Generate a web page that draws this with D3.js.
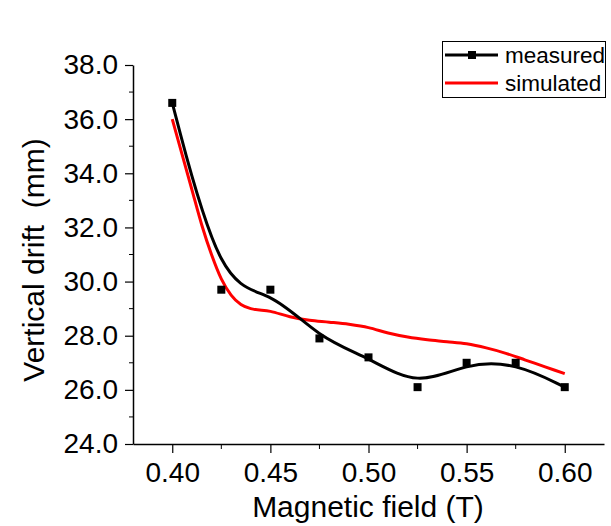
<!DOCTYPE html>
<html>
<head>
<meta charset="utf-8">
<script src="https://cdn.jsdelivr.net/npm/d3@7"></script>
<style>
  body { margin: 0; background: #fff; }
  text { font-family: Arial, "Liberation Sans", sans-serif; fill: #000; }
</style>
</head>
<body>
<script>
const w = 611
const h = 526

// measured points
const fieldMeasured = [0.400, 0.425, 0.450, 0.475, 0.500, 0.525, 0.550, 0.575, 0.600]
const driftMeasured = [36.6, 29.7, 29.7, 27.9, 27.2, 26.1, 27.0, 27.0, 26.1]

// simulated curve
const fieldSimulated = [0.400, 0.405, 0.410, 0.415, 0.420, 0.425, 0.430, 0.435, 0.440, 0.450,
  0.460, 0.470, 0.480, 0.490, 0.500, 0.510, 0.520, 0.530, 0.540, 0.550, 0.560, 0.570, 0.580, 0.590, 0.600]
const driftSimulated = [36.0, 34.7, 33.4, 32.1, 31.0, 30.1, 29.5, 29.15, 29.0, 28.9,
  28.7, 28.57, 28.5, 28.42, 28.3, 28.1, 27.95, 27.85, 27.78, 27.7, 27.55, 27.35, 27.1, 26.85, 26.6]

const xTicks = [0.40, 0.45, 0.50, 0.55, 0.60]
const yTicks = [24, 26, 28, 30, 32, 34, 36, 38]

const x = d3.scaleLinear().domain([0.38, 0.62]).range([133, 604])
const y = d3.scaleLinear().domain([24, 38]).range([444, 65])

const svg = d3.select('body').append('svg')
  .attr('width', w)
  .attr('height', h)

// axes
const xAxis = d3.axisBottom(x)
  .tickValues(xTicks)
  .tickFormat(d3.format('.2f'))
  .tickSize(9)
  .tickSizeOuter(0)
  .tickPadding(9)

const yAxis = d3.axisLeft(y)
  .tickValues(yTicks)
  .tickFormat(d3.format('.1f'))
  .tickSize(8)
  .tickSizeOuter(0)
  .tickPadding(7)

const gx = svg.append('g').attr('transform', 'translate(0,444)').call(xAxis)
const gy = svg.append('g').attr('transform', 'translate(133,0)').call(yAxis)

// minor ticks
const xMinor = [0.425, 0.475, 0.525, 0.575]
gx.selectAll('.minor').data(xMinor).enter().append('line')
  .attr('x1', d => x(d)).attr('x2', d => x(d))
  .attr('y1', 0).attr('y2', 5)
  .attr('stroke', '#000')
const yMinor = [25, 27, 29, 31, 33, 35, 37]
gy.selectAll('.minor').data(yMinor).enter().append('line')
  .attr('y1', d => y(d)).attr('y2', d => y(d))
  .attr('x1', 0).attr('x2', -4)
  .attr('stroke', '#000')

svg.selectAll('.domain').attr('stroke', '#000').attr('stroke-width', 1.5)
svg.selectAll('.tick line').attr('stroke', '#000').attr('stroke-width', 1.2)
svg.selectAll('.tick text')
  .attr('font-size', 28)
  .attr('font-family', 'Arial, "Liberation Sans", sans-serif')
  .attr('fill', '#000')

// axis titles
svg.append('text')
  .attr('x', 368)
  .attr('y', 517)
  .attr('text-anchor', 'middle')
  .attr('font-size', 30)
  .text('Magnetic field (T)')

svg.append('text')
  .attr('transform', 'translate(44,260) rotate(-90)')
  .attr('text-anchor', 'middle')
  .attr('font-size', 30)
  .style('white-space', 'pre')
  .text('Vertical drift  (mm)')

// lines
const simData = fieldSimulated.map((f, i) => ({ f, v: driftSimulated[i] }))
const measData = fieldMeasured.map((f, i) => ({ f, v: driftMeasured[i] }))

const simLine = d3.line()
  .x(d => x(d.f))
  .y(d => y(d.v))
  .curve(d3.curveMonotoneX)

const measLine = d3.line()
  .x(d => x(d.f))
  .y(d => y(d.v))
  .curve(d3.curveBasis)

svg.append('path')
  .attr('d', simLine(simData))
  .attr('stroke', '#ff0000')
  .attr('stroke-width', 3)
  .attr('fill', 'none')

svg.append('path')
  .attr('d', measLine(measData))
  .attr('stroke', '#000')
  .attr('stroke-width', 3)
  .attr('fill', 'none')

svg.selectAll('.pt').data(measData).enter().append('rect')
  .attr('x', d => x(d.f) - 4)
  .attr('y', d => y(d.v) - 4)
  .attr('width', 8)
  .attr('height', 8)
  .attr('fill', '#000')

// legend
const legend = svg.append('g')
legend.append('rect')
  .attr('x', 442.5).attr('y', 41.5)
  .attr('width', 163).attr('height', 56)
  .attr('fill', 'none').attr('stroke', '#000').attr('stroke-width', 1)

legend.append('line')
  .attr('x1', 445).attr('x2', 498).attr('y1', 55).attr('y2', 55)
  .attr('stroke', '#000').attr('stroke-width', 3)
legend.append('rect')
  .attr('x', 468).attr('y', 51).attr('width', 8).attr('height', 8)
  .attr('fill', '#000')
legend.append('text')
  .attr('x', 505).attr('y', 63)
  .attr('font-size', 22.5)
  .text('measured')

legend.append('line')
  .attr('x1', 445).attr('x2', 498).attr('y1', 83).attr('y2', 83)
  .attr('stroke', '#ff0000').attr('stroke-width', 3)
legend.append('text')
  .attr('x', 505).attr('y', 91)
  .attr('font-size', 22.5)
  .text('simulated')
</script>
</body>
</html>
